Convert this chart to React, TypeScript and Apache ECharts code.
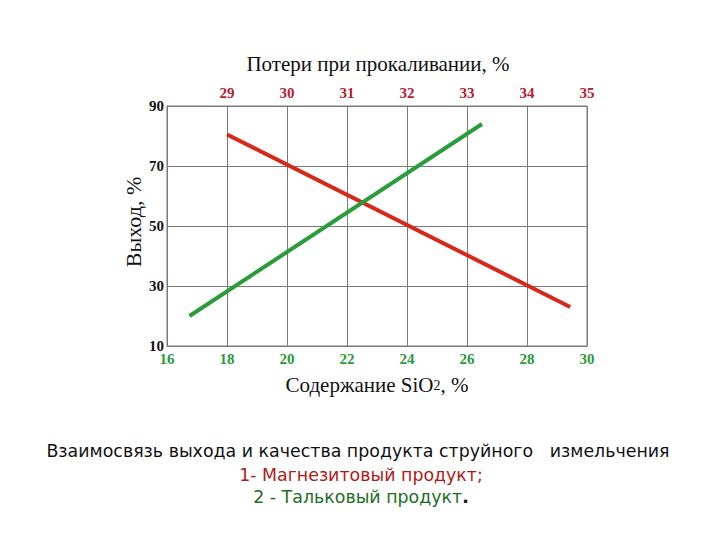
import React, { useEffect, useRef } from "react";
import * as echarts from "echarts";

const bottomTicks = [16, 18, 20, 22, 24, 26, 28, 30];
const topTicks = [28, 29, 30, 31, 32, 33, 34, 35];
const yTicks = [10, 30, 50, 70, 90];
// Series 1 (magnesite): top axis (loss on ignition, %) vs yield
const redLine: [number, number][] = [
  [29, 80.5],
  [34.72, 23],
];
// Series 2 (talc): bottom axis (SiO2 content, %) vs yield
const greenLine: [number, number][] = [
  [16.75, 20],
  [26.5, 84],
];

const SERIF = "'Liberation Serif', 'DejaVu Serif', serif";
const SANS = "'DejaVu Sans', 'Noto Sans', sans-serif";

export default function App() {
  const ref = useRef<HTMLDivElement>(null);
  useEffect(() => {
    if (!ref.current) return;
    const chart = echarts.init(ref.current, undefined, { renderer: "svg" });
    chart.setOption({
      animation: false,
      backgroundColor: "#ffffff",
      grid: {
        left: 167,
        top: 106,
        width: 420,
        height: 240,
        show: true,
        borderColor: "#7a7a7a",
        borderWidth: 1,
        backgroundColor: "transparent",
      },
      xAxis: [
        {
          type: "value",
          position: "bottom",
          min: bottomTicks[0],
          max: bottomTicks[bottomTicks.length - 1],
          interval: 2,
          axisLine: { show: true, lineStyle: { color: "#7a7a7a", width: 1 } },
          axisTick: { show: false },
          splitLine: { show: true, lineStyle: { color: "#7a7a7a", width: 1 } },
          axisLabel: {
            color: "#2a9a3a",
            fontFamily: SERIF,
            fontWeight: "bold",
            fontSize: 15,
            margin: 5,
          },
        },
        {
          type: "value",
          position: "top",
          min: topTicks[0],
          max: topTicks[topTicks.length - 1],
          interval: 1,
          axisLine: { show: false },
          axisTick: { show: false },
          splitLine: { show: false },
          axisLabel: {
            color: "#b52030",
            fontFamily: SERIF,
            fontWeight: "bold",
            fontSize: 15,
            margin: 6,
            formatter: (v: number) => (v === topTicks[0] ? "" : String(v)),
          },
        },
      ],
      yAxis: {
        type: "value",
        min: yTicks[0],
        max: yTicks[yTicks.length - 1],
        interval: 20,
        axisLine: { show: true, lineStyle: { color: "#7a7a7a", width: 1 } },
        axisTick: { show: false },
        splitLine: { show: true, lineStyle: { color: "#7a7a7a", width: 1 } },
        axisLabel: {
          color: "#111",
          fontFamily: SERIF,
          fontWeight: "bold",
          fontSize: 15,
          margin: 3,
        },
      },
      series: [
        {
          type: "line",
          xAxisIndex: 1,
          data: redLine,
          showSymbol: false,
          lineStyle: { color: "#d8281c", width: 4 },
        },
        {
          type: "line",
          xAxisIndex: 0,
          data: greenLine,
          showSymbol: false,
          lineStyle: { color: "#2a9c3a", width: 4 },
        },
      ],
      graphic: [
        {
          type: "text",
          x: 378,
          y: 64,
          style: {
            text: "Потери при прокаливании, %",
            font: `21px ${SERIF}`,
            fill: "#111",
            textAlign: "center",
            textVerticalAlign: "middle",
          },
        },
        {
          type: "text",
          x: 133,
          y: 222,
          rotation: Math.PI / 2,
          style: {
            text: "Выход, %",
            font: `22px ${SERIF}`,
            fill: "#111",
            textAlign: "center",
            textVerticalAlign: "middle",
          },
        },
        {
          type: "text",
          x: 377,
          y: 385,
          style: {
            text: "{a|Содержание SiO}{b|2}{a|, %}",
            rich: {
              a: { fontFamily: SERIF, fontSize: 21, fill: "#111" },
              b: { fontFamily: SERIF, fontSize: 14, fill: "#111" },
            },
            textAlign: "center",
            textVerticalAlign: "middle",
          },
        },
        {
          type: "text",
          x: 358,
          y: 451,
          style: {
            text: "Взаимосвязь выхода и качества продукта струйного   измельчения",
            font: `17.4px ${SANS}`,
            fill: "#111",
            textAlign: "center",
            textVerticalAlign: "middle",
          },
        },
        {
          type: "text",
          x: 361,
          y: 475,
          style: {
            text: "1- Магнезитовый продукт;",
            font: `17.4px ${SANS}`,
            fill: "#b01a1a",
            textAlign: "center",
            textVerticalAlign: "middle",
          },
        },
        {
          type: "text",
          x: 361,
          y: 497,
          style: {
            text: "{a|2 - Тальковый продукт}{b|.}",
            rich: {
              a: { fontFamily: SANS, fontSize: 17.4, fill: "#1e6e1e" },
              b: { fontFamily: SANS, fontSize: 17.4, fontWeight: "bold", fill: "#111" },
            },
            textAlign: "center",
            textVerticalAlign: "middle",
          },
        },
      ],
    });
    return () => chart.dispose();
  }, []);
  return (
    <div
      ref={ref}
      style={{ position: "absolute", left: 0, top: 0, width: 720, height: 540 }}
    />
  );
}
